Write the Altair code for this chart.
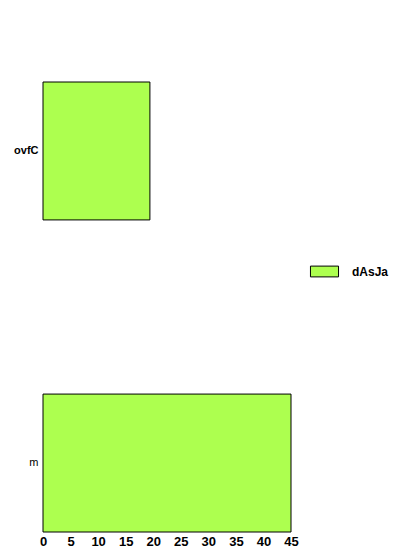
import altair as alt
import pandas as pd

categories = ["ovfC", "m"]
values = [19.4, 45]
series = ["dAsJa", "dAsJa"]

df = pd.DataFrame({"cat": categories, "val": values, "series": series})

chart = alt.Chart(df).mark_bar(stroke="black", strokeWidth=1).encode(
    y=alt.Y("cat:N", sort=categories, title=None,
            scale=alt.Scale(paddingInner=0.558, paddingOuter=0),
            axis=alt.Axis(domain=False, ticks=False, labelPadding=5,
                          labelFont="Liberation Sans", labelFontSize=11,
                          labelColor="black",
                          labelFontWeight=alt.expr("datum.value == 'ovfC' ? 'bold' : 'normal'"))),
    x=alt.X("val:Q", title=None,
            scale=alt.Scale(domain=[0, 45], nice=False),
            axis=alt.Axis(values=list(range(0, 50, 5)), domain=False, ticks=False,
                          grid=False, labelPadding=3, labelFont="Liberation Sans",
                          labelFontSize=13, labelFontWeight="bold", labelColor="black",
                          labelFlush=False)),
    color=alt.Color("series:N", title=None,
                    scale=alt.Scale(range=["#adff4f"]),
                    legend=alt.Legend(orient="none", legendX=270, legendY=178,
                                      symbolType="M-1.3,-0.5L1.3,-0.5L1.3,0.5L-1.3,0.5Z",
                                      symbolSize=466, symbolStrokeColor="black",
                                      symbolStrokeWidth=1, symbolOpacity=1,
                                      labelFont="Liberation Sans",
                                      labelFontSize=12, labelFontWeight="bold",
                                      labelColor="black", labelOffset=16)),
).properties(
    width=248, height=450,
    autosize=alt.AutoSizeParams(type="none"),
    padding={"left": 43, "top": 82, "right": 129, "bottom": 28},
).configure_view(stroke=None)

chart.save("out.html", embed_options={"renderer": "svg", "actions": False})
